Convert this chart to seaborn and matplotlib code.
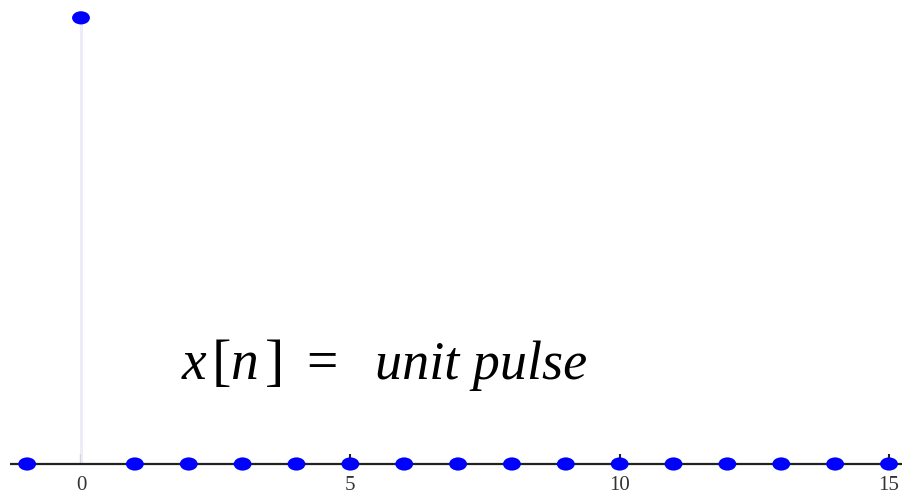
import matplotlib
matplotlib.use("Agg")
import matplotlib.pyplot as plt
import numpy as np
import pandas as pd
import seaborn as sns
from matplotlib.path import Path

n_values = list(range(-1, 16))
x_values = [0, 1] + [0] * 15
tick_positions = [0, 5, 10, 15]
tick_labels = ["0", "5", "10", "15"]
# label pieces: (text, left x in data units, italic?, size)
label_parts = [("x", 1.86, True, 40), ("[", 2.42, False, 42), ("n", 2.76, True, 40),
               ("]", 3.42, False, 42), ("=", 4.19, False, 40),
               ("unit pulse", 5.46, True, 39)]

df = pd.DataFrame({"n": n_values, "x": x_values})

sns.set_style("white")
plt.rcParams["font.family"] = ["Liberation Serif", "DejaVu Serif"]

# ellipse marker, a bit wider than tall
circ = Path.unit_circle()
ellipse = Path(circ.vertices * np.array([1.0, 0.74]), circ.codes)

fig = plt.figure(figsize=(9.03, 4.95), dpi=100)
ax = fig.add_axes([10 / 903, 0, 893 / 903, 1])

ax.vlines(df["n"], 0, df["x"], color="#ebebfa", lw=2, zorder=1)
ax.axhline(0, color="#222222", lw=1.6, zorder=2)
sns.scatterplot(data=df, x="n", y="x", marker=ellipse, s=165, color="#0000ff",
                edgecolor="none", ax=ax, zorder=3)

ax.set_xlim(-1.318, 15.26)
ax.set_ylim(-0.0695, 1.040)
for s in ["top", "right", "left", "bottom"]:
    ax.spines[s].set_visible(False)
ax.spines["bottom"].set_position(("data", 0))

ax.set_xticks(tick_positions)
ax.set_xticklabels(tick_labels)
ax.set_xticks(n_values, minor=True)
ax.tick_params(axis="x", which="major", direction="in", length=7, width=1.5,
               color="#222222", labelsize=15, labelcolor="#333333", pad=9,
               bottom=True)
ax.tick_params(axis="x", which="minor", direction="in", length=4, width=1.1,
               color="#222222", bottom=True)
ax.set_yticks([])
ax.set_xlabel("")
ax.set_ylabel("")

for txt, xpos, ital, size in label_parts:
    ax.text(xpos, 0.19, txt, fontsize=size, ha="left", va="baseline",
            style="italic" if ital else "normal", color="black")

fig.savefig("out.png", dpi=100)
